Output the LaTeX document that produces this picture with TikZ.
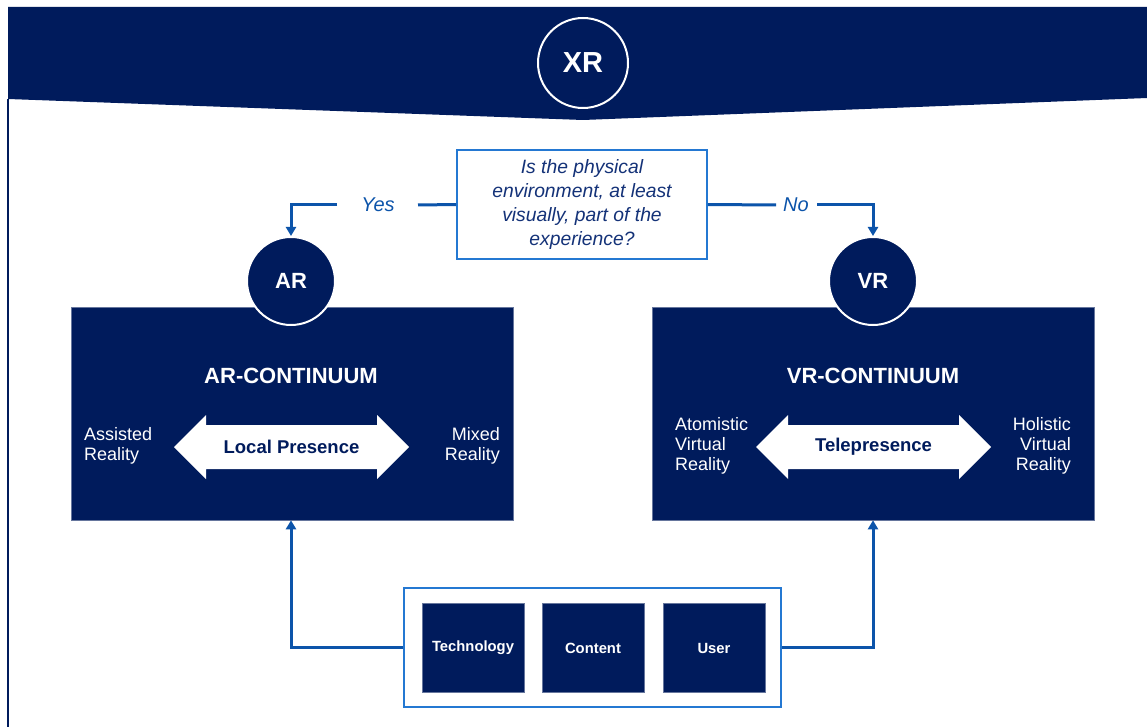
\documentclass[tikz,border=0pt]{standalone}
\usepackage{fontspec}
\setmainfont{Liberation Sans}
\usetikzlibrary{arrows.meta}
\definecolor{navy}{RGB}{0,27,92}
\definecolor{linkblue}{RGB}{12,84,170}
\definecolor{framblue}{RGB}{36,120,210}
\definecolor{qtext}{RGB}{20,50,120}
\tikzset{
  darkbox/.style={fill=navy,draw=navy!60!white,line width=0.6pt,inner sep=0pt},
  badge/.style={circle,fill=navy,draw=white,line width=2pt,minimum size=88pt,inner sep=0pt,text=white,font=\bfseries\fontsize{22}{24}\selectfont},
  link/.style={draw=linkblue,line width=3pt,-{Triangle[length=9pt,width=10pt]}},
  plainlink/.style={draw=linkblue,line width=3pt},
  sidetxt/.style={text=white,font=\fontsize{18}{20}\selectfont,inner sep=0pt},
  arrowlabel/.style={text=navy,font=\bfseries\fontsize{18.5}{20}\selectfont,inner sep=0pt},
  smallbox/.style={fill=navy,draw=navy!60!white,line width=0.6pt,minimum width=102pt,minimum height=89pt,inner sep=0pt,text=white,font=\bfseries\fontsize{14.8}{16}\selectfont},
  yn/.style={text=linkblue,font=\itshape\fontsize{20}{22}\selectfont,inner sep=0pt},
  title/.style={text=white,font=\bfseries\fontsize{22}{24}\selectfont},
  dblarr/.pic={\fill[white] (-117.5,0) -- (-85.5,-32) -- (-85.5,-22) -- (85.5,-22) -- (85.5,-32) -- (117.5,0)
    -- (85.5,32) -- (85.5,22) -- (-85.5,22) -- (-85.5,32) -- cycle;}
}
\begin{document}
\begin{tikzpicture}[x=1pt,y=-1pt]
\useasboundingbox (0,0) rectangle (1147,727);
\fill[white] (0,0) rectangle (1147,727);
% banner
\fill[navy] (8,7) -- (1147,7) -- (1147,98) -- (583,120) -- (8,99) -- cycle;
\draw[navy,line width=1.6pt] (8,99) -- (8,727);
\node[circle,draw=white,line width=2pt,minimum size=90pt,inner sep=0pt,text=white,font=\bfseries\fontsize{29}{32}\selectfont] (xr) at (583,63) {XR};
% question
\node[draw=framblue,line width=1.6pt,fill=white,minimum width=250pt,minimum height=109pt,inner sep=0pt,align=center,text=qtext,font=\itshape\fontsize{19.3}{24}\selectfont] (q) at (582,204.5) {Is the physical\\environment, at least\\visually, part of the\\experience?};
% continuum boxes
\node[darkbox,minimum width=442pt,minimum height=213pt] (arbox) at (292,413.5) {};
\node[darkbox,minimum width=442pt,minimum height=213pt] (vrbox) at (873,413.5) {};
\node[badge] (ar) at (291,281) {AR};
\node[badge] (vr) at (873,281) {VR};
% yes / no
\node[yn] (yes) at (378,205) {Yes};
\node[yn] (no) at (796,205) {No};
\coordinate (yescorner) at (291,205);
\coordinate (nocorner) at (873,205);
\coordinate (yesr) at (418,205);
\coordinate (yesl) at (337,205);
\coordinate (nol) at (776,205);
\coordinate (nor) at (817,205);
\draw[plainlink] (q.west) -- (yesr);
\draw[link] (yesl) -- (yescorner) -- (ar.north);
\draw[plainlink] (q.east) -- (nol);
\draw[link] (nor) -- (nocorner) -- (vr.north);
% titles
\node[title] (art) at (291,376) {AR-CONTINUUM};
\node[title] (vrt) at (873,376) {VR-CONTINUUM};
\pic at (291.5,447) {dblarr};
\pic at (873.5,447) {dblarr};
\node[arrowlabel] (lp) at (291.5,447) {Local Presence};
\node[arrowlabel] (tp) at (873.5,447) {Telepresence};
\node[sidetxt,align=left,anchor=west] (ass) at (84,446) {Assisted\\Reality};
\node[sidetxt,align=right,anchor=east] (mix) at (500,446) {Mixed\\Reality};
\node[sidetxt,align=left,anchor=west] (ato) at (675,446) {Atomistic\\Virtual\\Reality};
\node[sidetxt,align=right,anchor=east] (hol) at (1071,446) {Holistic\\Virtual\\Reality};
% bottom
\node[draw=framblue,line width=1.6pt,fill=white,minimum width=377pt,minimum height=119pt,inner sep=0pt] (frame) at (592.5,647.5) {};
\node[smallbox] (tech) at (473,648) {Technology};
\node[smallbox] (cont) at (593,648) {Content};
\node[smallbox] (user) at (714,648) {User};
\draw[link] (frame.west) -| (arbox.south -| ar.south);
\draw[link] (frame.east) -| (vrbox.south -| vr.south);
\end{tikzpicture}
\end{document}
